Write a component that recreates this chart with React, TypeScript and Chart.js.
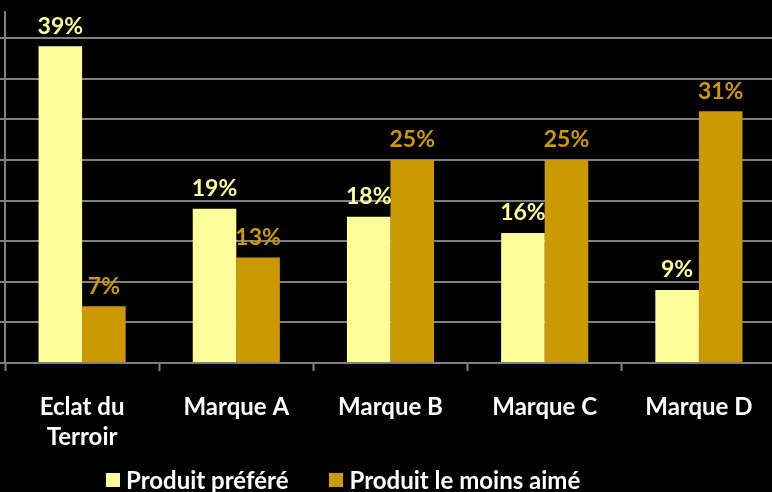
import React, { useEffect, useRef } from "react";
import { Chart, registerables } from "chart.js";

Chart.register(...registerables);

const categories: (string | string[])[] = [["Eclat du", "Terroir"], "Marque A", "Marque B", "Marque C", "Marque D"];
const seriesNames = ["Produit préféré", "Produit le moins aimé"];
const preferred = [39, 19, 18, 16, 9];
const leastLiked = [7, 13, 25, 25, 31];
const yTicks = [0, 5, 10, 15, 20, 25, 30, 35, 40];
const colors = ["#FFFF99", "#CC9900"];
const FONT = "Lato, 'Open Sans', sans-serif";

const valueLabels = {
  id: "valueLabels",
  afterDatasetsDraw(chart: any) {
    const ctx = chart.ctx;
    chart.data.datasets.forEach((ds: any, i: number) => {
      const meta = chart.getDatasetMeta(i);
      meta.data.forEach((bar: any, j: number) => {
        ctx.save();
        ctx.font = `bold 23px ${FONT}`;
        ctx.fillStyle = colors[i];
        ctx.textAlign = "center";
        ctx.textBaseline = "middle";
        ctx.fillText(ds.data[j] + "%", bar.x, bar.y - 20);
        ctx.restore();
      });
    });
  },
};

export default function App() {
  const ref = useRef<HTMLCanvasElement>(null);
  useEffect(() => {
    if (!ref.current) return;
    const chart = new Chart(ref.current, {
      type: "bar",
      data: {
        labels: categories as any,
        datasets: [
          { label: seriesNames[0], data: preferred, backgroundColor: colors[0], categoryPercentage: 0.565, barPercentage: 1 },
          { label: seriesNames[1], data: leastLiked, backgroundColor: colors[1], categoryPercentage: 0.565, barPercentage: 1 },
        ],
      },
      options: {
        responsive: false,
        animation: false,
        devicePixelRatio: 1,
        layout: { padding: { top: 12, right: 4, left: 0, bottom: 19 } },
        plugins: { legend: { display: false }, tooltip: { enabled: false } },
        scales: {
          x: {
            grid: { display: true, drawOnChartArea: false, drawTicks: true, tickLength: 8, tickColor: "#808080", tickWidth: 2, offset: true },
            border: { display: true, color: "#808080", width: 2 },
            ticks: { color: "#FFFFFF", font: { family: FONT, size: 24, weight: "bold", lineHeight: 1.25 }, padding: 21, maxRotation: 0, autoSkip: false },
          },
          y: {
            min: 0,
            max: 43.2,
            afterBuildTicks: (axis: any) => {
              axis.ticks = yTicks.map((v) => ({ value: v }));
            },
            grid: { color: "#808080", lineWidth: 2, drawTicks: true, tickLength: 5, tickColor: "#808080" },
            border: { display: true, color: "#808080", width: 2 },
            ticks: { display: false },
          },
        },
      },
      plugins: [valueLabels],
    });
    return () => chart.destroy();
  }, []);

  const legendItem = (i: number) => (
    <div style={{ display: "flex", alignItems: "center" }}>
      <div style={{ width: 14, height: 14, background: colors[i], marginRight: 6 }} />
      <span>{seriesNames[i]}</span>
    </div>
  );

  return (
    <div style={{ position: "fixed", left: 0, top: 0, width: 772, height: 492, overflow: "hidden", background: "#000" }}>
      <canvas ref={ref} width={780} height={492} style={{ position: "absolute", left: 0, top: 0 }} />
      <div
        style={{
          position: "absolute",
          left: 106,
          top: 465,
          display: "flex",
          gap: 41,
          color: "#fff",
          fontFamily: FONT,
          fontWeight: "bold",
          fontSize: 24,
          lineHeight: "30px",
        }}
      >
        {legendItem(0)}
        {legendItem(1)}
      </div>
    </div>
  );
}
